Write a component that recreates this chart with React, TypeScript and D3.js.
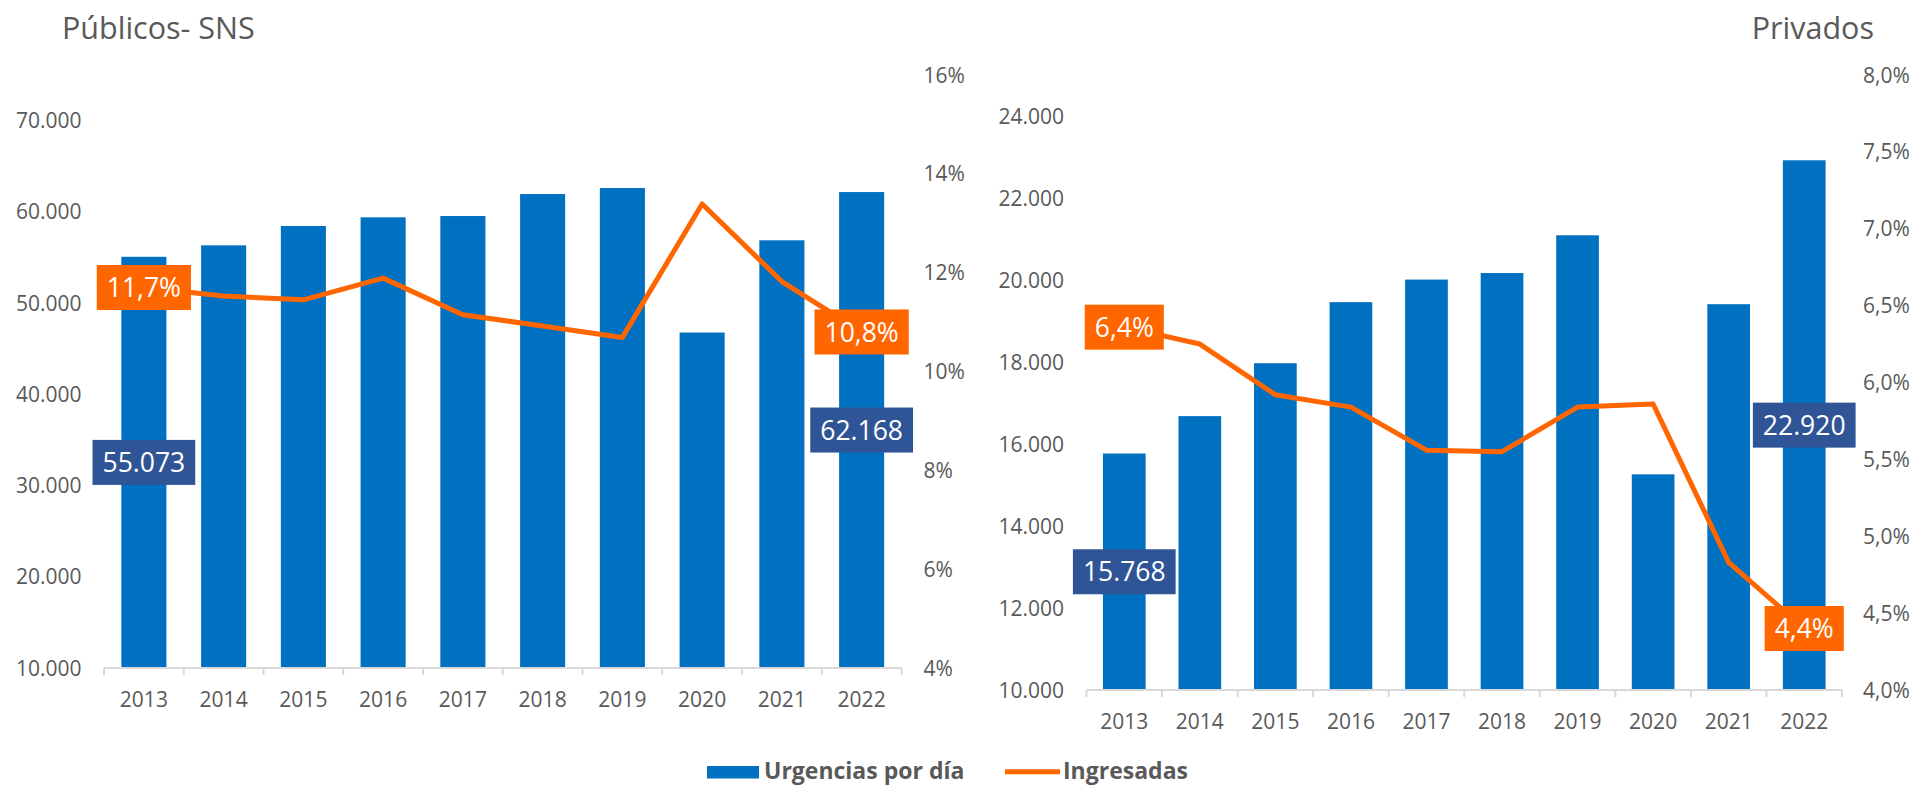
import React, { useEffect, useRef } from 'react';
import * as d3 from 'd3';

const years = ['2013', '2014', '2015', '2016', '2017', '2018', '2019', '2020', '2021', '2022'];

const publicUrgencias = [55073, 56330, 58450, 59400, 59540, 61950, 62610, 46770, 56880, 62168];
const publicIngresadas = [0.117, 0.1153, 0.1145, 0.1189, 0.1115, 0.1092, 0.1069, 0.1339, 0.1182, 0.108];

const privUrgencias = [15768, 16680, 17970, 19460, 20010, 20170, 21090, 15260, 19410, 22920];
const privIngresadas = [0.0636, 0.0625, 0.0592, 0.0584, 0.0556, 0.0555, 0.0584, 0.0586, 0.0483, 0.044];

const publicLeftTicks = [10000, 20000, 30000, 40000, 50000, 60000, 70000];
const publicRightTicks = [0.04, 0.06, 0.08, 0.10, 0.12, 0.14, 0.16];
const privLeftTicks = [10000, 12000, 14000, 16000, 18000, 20000, 22000, 24000];
const privRightTicks = [0.04, 0.045, 0.05, 0.055, 0.06, 0.065, 0.07, 0.075, 0.08];

const titles = ['Públicos- SNS', 'Privados'];
const legendLabels = ['Urgencias por día', 'Ingresadas'];

const BLUE = '#0070C0';
const ORANGE = '#FF6600';
const DARKBLUE = '#2F5597';
const GRAY = '#595959';
const AXIS = '#D9D9D9';
const FONT = "'Open Sans', sans-serif";

const loc = d3.formatLocale({ decimal: ',', thousands: '.', grouping: [3], currency: ['', '€'] });
const fmtInt = loc.format(',.0f');
const fmtPct0 = loc.format('.0%');
const fmtPct1 = loc.format('.1%');

type PanelCfg = {
  x0: number; x1: number; top: number; bottom: number;
  leftDomain: [number, number]; rightDomain: [number, number];
  leftTicks: number[]; rightTicks: number[];
  leftLabelX: number; rightLabelX: number;
  bars: number[]; line: number[]; pctFmt: (n: number) => string;
};

export default function App() {
  const ref = useRef<SVGSVGElement>(null);

  useEffect(() => {
    const svg = d3.select(ref.current);
    svg.selectAll('*').remove();

    const drawPanel = (cfg: PanelCfg) => {
      const g = svg.append('g');
      const x = d3.scaleBand<string>().domain(years).range([cfg.x0, cfg.x1]).paddingInner(0).paddingOuter(0);
      const yL = d3.scaleLinear().domain(cfg.leftDomain).range([cfg.bottom, cfg.top]);
      const yR = d3.scaleLinear().domain(cfg.rightDomain).range([cfg.bottom, cfg.top]);
      const bw = x.bandwidth() * 0.565;

      // bars
      g.selectAll('rect.bar').data(cfg.bars).enter().append('rect')
        .attr('x', (_, i) => x(years[i])! + (x.bandwidth() - bw) / 2)
        .attr('y', d => yL(d))
        .attr('width', bw)
        .attr('height', d => cfg.bottom - yL(d))
        .attr('fill', BLUE);

      // x axis line
      g.append('line').attr('x1', cfg.x0).attr('x2', cfg.x1).attr('y1', cfg.bottom).attr('y2', cfg.bottom)
        .attr('stroke', AXIS).attr('stroke-width', 2);
      const bounds = years.map(yv => x(yv)!).concat([cfg.x1]);
      g.selectAll('line.tick').data(bounds).enter().append('line')
        .attr('x1', d => d).attr('x2', d => d).attr('y1', cfg.bottom).attr('y2', cfg.bottom + 7)
        .attr('stroke', AXIS).attr('stroke-width', 2);

      // year labels
      g.selectAll('text.year').data(years).enter().append('text')
        .attr('x', d => x(d)! + x.bandwidth() / 2).attr('y', cfg.bottom + 39)
        .attr('text-anchor', 'middle').attr('font-family', FONT).attr('font-size', 21).attr('fill', GRAY)
        .text(d => d);

      // left ticks
      g.selectAll('text.lt').data(cfg.leftTicks).enter().append('text')
        .attr('x', cfg.leftLabelX).attr('y', d => yL(d)).attr('dy', '0.36em')
        .attr('text-anchor', 'end').attr('font-family', FONT).attr('font-size', 21).attr('fill', GRAY)
        .text(d => fmtInt(d));

      // right ticks
      g.selectAll('text.rt').data(cfg.rightTicks).enter().append('text')
        .attr('x', cfg.rightLabelX).attr('y', d => yR(d)).attr('dy', '0.36em')
        .attr('text-anchor', 'start').attr('font-family', FONT).attr('font-size', 21).attr('fill', GRAY)
        .text(d => cfg.pctFmt(d));

      // line
      const lineGen = d3.line<number>()
        .x((_, i) => x(years[i])! + x.bandwidth() / 2)
        .y(d => yR(d));
      g.append('path').datum(cfg.line).attr('d', lineGen).attr('fill', 'none')
        .attr('stroke', ORANGE).attr('stroke-width', 5).attr('stroke-linejoin', 'round');

      const label = (cx: number, cy: number, txt: string, fill: string) => {
        const lg = g.append('g');
        const rect = lg.append('rect').attr('fill', fill);
        const t = lg.append('text').attr('x', cx).attr('y', cy).attr('dy', '0.36em')
          .attr('text-anchor', 'middle').attr('font-family', FONT).attr('font-size', 26.5).attr('fill', '#FFFFFF')
          .text(txt);
        const w = (t.node() as SVGTextElement).getComputedTextLength() + 20;
        rect.attr('x', cx - w / 2).attr('y', cy - 22.5).attr('width', w).attr('height', 45);
      };

      const last = years.length - 1;
      [0, last].forEach(i => {
        const cx = x(years[i])! + x.bandwidth() / 2;
        label(cx, (yL(cfg.bars[i]) + cfg.bottom) / 2, fmtInt(cfg.bars[i]), DARKBLUE);
      });
      [0, last].forEach(i => {
        const cx = x(years[i])! + x.bandwidth() / 2;
        label(cx, yR(cfg.line[i]), fmtPct1(cfg.line[i]), ORANGE);
      });
    };

    drawPanel({
      x0: 104, x1: 901.5, top: 75, bottom: 668,
      leftDomain: [10000, 75000], rightDomain: [0.04, 0.16],
      leftTicks: publicLeftTicks, rightTicks: publicRightTicks,
      leftLabelX: 81.5, rightLabelX: 923.5,
      bars: publicUrgencias, line: publicIngresadas, pctFmt: fmtPct0,
    });
    drawPanel({
      x0: 1086.5, x1: 1842, top: 75, bottom: 690,
      leftDomain: [10000, 25000], rightDomain: [0.04, 0.08],
      leftTicks: privLeftTicks, rightTicks: privRightTicks,
      leftLabelX: 1064, rightLabelX: 1863,
      bars: privUrgencias, line: privIngresadas, pctFmt: fmtPct1,
    });

    // titles
    svg.append('text').attr('x', 62).attr('y', 39).attr('font-family', FONT).attr('font-size', 30.5)
      .attr('fill', GRAY).text(titles[0]);
    svg.append('text').attr('x', 1874).attr('y', 39).attr('text-anchor', 'end').attr('font-family', FONT)
      .attr('font-size', 30.5).attr('fill', GRAY).text(titles[1]);

    // legend
    const lg = svg.append('g');
    lg.append('rect').attr('x', 707).attr('y', 766).attr('width', 52).attr('height', 12.5).attr('fill', BLUE);
    lg.append('text').attr('x', 764).attr('y', 778.5).attr('font-family', FONT).attr('font-weight', 'bold')
      .attr('font-size', 23).attr('fill', GRAY).text(legendLabels[0]);
    lg.append('line').attr('x1', 1005).attr('x2', 1060).attr('y1', 771.7).attr('y2', 771.7)
      .attr('stroke', ORANGE).attr('stroke-width', 5);
    lg.append('text').attr('x', 1063).attr('y', 778.5).attr('font-family', FONT).attr('font-weight', 'bold')
      .attr('font-size', 23).attr('fill', GRAY).text(legendLabels[1]);
  }, []);

  return (
    <svg ref={ref} width={1915} height={786}
      style={{ position: 'absolute', left: 0, top: 0, display: 'block', background: '#FFFFFF' }} />
  );
}
